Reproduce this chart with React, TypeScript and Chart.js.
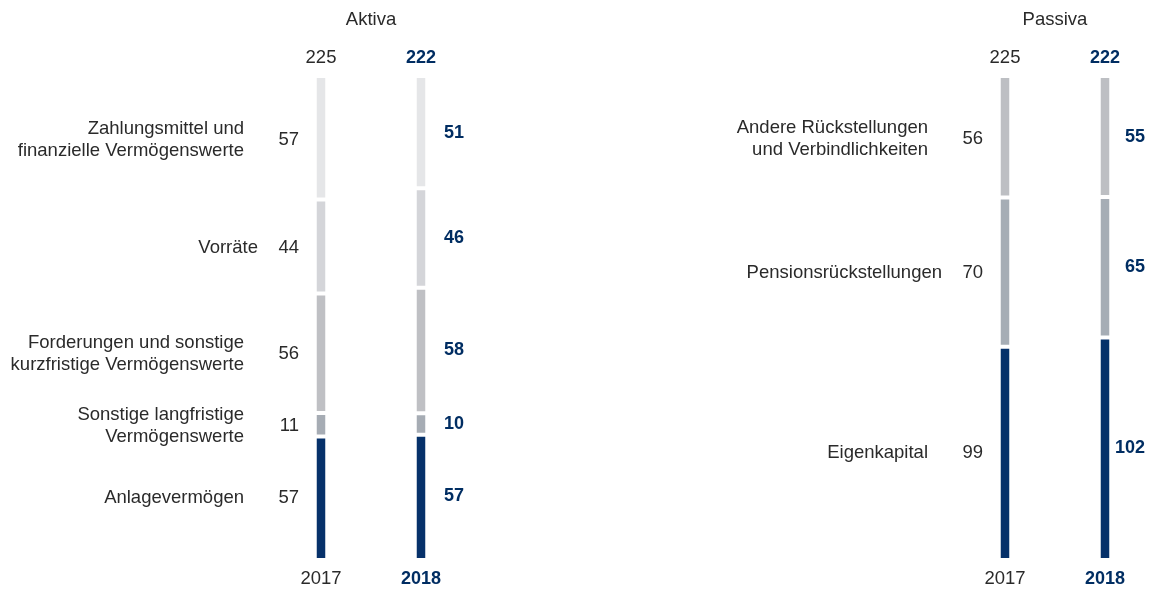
import React, { useEffect, useRef } from "react";
import { Chart, registerables } from "chart.js";

Chart.register(...registerables);

// Balance sheet structure, values in € bn
const years = ["2017", "2018"];

// Aktiva, listed from the bottom of the stack upwards
const aktivaCategories = [
  "Anlagevermögen",
  "Sonstige langfristige\nVermögenswerte",
  "Forderungen und sonstige\nkurzfristige Vermögenswerte",
  "Vorräte",
  "Zahlungsmittel und\nfinanzielle Vermögenswerte",
];
const aktiva2017 = [57, 11, 56, 44, 57];
const aktiva2018 = [57, 10, 58, 46, 51];
const aktivaColors = ["#06316A", "#A6ACB4", "#BFC0C4", "#D4D5D9", "#E5E6E8"];

// Passiva, listed from the bottom of the stack upwards
const passivaCategories = [
  "Eigenkapital",
  "Pensionsrückstellungen",
  "Andere Rückstellungen\nund Verbindlichkeiten",
];
const passiva2017 = [99, 70, 56];
const passiva2018 = [102, 65, 55];
const passivaColors = ["#06316A", "#A6ADB5", "#BDBFC3"];

const NAVY = "#002D62";
const TEXT = "#2a2a2a";
const FONT = "'Liberation Sans', Arial, Helvetica, sans-serif";
const FONT_SIZE = 18.5;
const BOLD_SIZE = 18;

type PanelProps = {
  title: string;
  categories: string[];
  first: number[];
  second: number[];
  colors: string[];
  left: number;
  width: number;
  padLeft: number;
  padRight: number;
  valueOffset: number;
  singleLineShift: number[];
};

const sum = (a: number[]) => a.reduce((s, v) => s + v, 0);

function Panel(props: PanelProps) {
  const ref = useRef<HTMLCanvasElement | null>(null);

  useEffect(() => {
    const canvas = ref.current;
    if (!canvas) return;
    const { categories, first, second, colors, title, singleLineShift, valueOffset } = props;
    const totals = [sum(first), sum(second)];
    const n = categories.length;

    const datasets = categories.map((cat, i) => ({
      label: cat,
      // each column is shown as its share of the balance sheet total
      data: [(first[i] / totals[0]) * 100, (second[i] / totals[1]) * 100],
      backgroundColor: colors[i],
      borderColor: "#ffffff",
      borderWidth: {
        top: i === n - 1 ? 0 : 2,
        bottom: i === 0 ? 0 : 2,
        left: 0,
        right: 0,
      },
      borderSkipped: false as const,
      inflateAmount: 0,
      barThickness: 9,
    }));

    const labelPlugin = {
      id: "balanceLabels",
      afterDatasetsDraw(chart: any) {
        const ctx = chart.ctx as CanvasRenderingContext2D;
        ctx.save();
        ctx.textBaseline = "middle";

        const firstMeta = chart.getDatasetMeta(0);
        const xA = firstMeta.data[0].x;
        const xB = firstMeta.data[1].x;

        // title
        ctx.font = `${FONT_SIZE}px ${FONT}`;
        ctx.fillStyle = TEXT;
        ctx.textAlign = "center";
        ctx.fillText(title, (xA + xB) / 2, 20);

        // totals above, years below
        ctx.fillText(String(totals[0]), xA, 58);
        ctx.fillText(years[0], xA, 579);
        ctx.font = `bold ${BOLD_SIZE}px ${FONT}`;
        ctx.fillStyle = NAVY;
        ctx.fillText(String(totals[1]), xB, 58);
        ctx.fillText(years[1], xB, 579);

        categories.forEach((cat, i) => {
          const meta = chart.getDatasetMeta(i);
          const a = meta.data[0];
          const b = meta.data[1];
          const cyA = (a.y + a.base) / 2;
          const cyB = (b.y + b.base) / 2;

          // values of the first year
          ctx.font = `${FONT_SIZE}px ${FONT}`;
          ctx.fillStyle = TEXT;
          ctx.textAlign = "right";
          ctx.fillText(String(first[i]), xA - 22, cyA + 1);

          // category names
          const lines = cat.split("\n");
          const lh = 22;
          const x = xA - 77 + (singleLineShift[i] || 0);
          lines.forEach((line, k) => {
            const y = cyA + 1 + (k - (lines.length - 1) / 2) * lh;
            ctx.fillText(line, x, y);
          });

          // values of the second year
          ctx.font = `bold ${BOLD_SIZE}px ${FONT}`;
          ctx.fillStyle = NAVY;
          ctx.textAlign = "right";
          ctx.fillText(String(second[i]), xB + valueOffset, cyB);
        });

        ctx.restore();
      },
    };

    const chart = new Chart(canvas, {
      type: "bar",
      data: { labels: years, datasets },
      options: {
        animation: false,
        responsive: false,
        maintainAspectRatio: false,
        layout: {
          padding: { left: props.padLeft, right: props.padRight, top: 78, bottom: 31 },
        },
        plugins: {
          legend: { display: false },
          tooltip: { enabled: false },
        },
        scales: {
          x: { stacked: true, display: false },
          y: { stacked: true, display: false, min: 0, max: 100 },
        },
      },
      plugins: [labelPlugin],
    });

    return () => chart.destroy();
  }, []);

  return (
    <div
      style={{
        position: "absolute",
        left: props.left,
        top: 0,
        width: props.width,
        height: 589,
      }}
    >
      <canvas ref={ref} width={props.width} height={589} style={{ display: "block" }} />
    </div>
  );
}

export default function App() {
  return (
    <div
      style={{
        position: "absolute",
        left: 0,
        top: 0,
        width: 1149,
        height: 589,
        overflow: "hidden",
        background: "#ffffff",
      }}
    >
      <Panel
        title="Aktiva"
        categories={aktivaCategories}
        first={aktiva2017}
        second={aktiva2018}
        colors={aktivaColors}
        left={0}
        width={575}
        padLeft={271}
        padRight={104}
        valueOffset={43}
        singleLineShift={[0, 0, 0, 14, 0]}
      />
      <Panel
        title="Passiva"
        categories={passivaCategories}
        first={passiva2017}
        second={passiva2018}
        colors={passivaColors}
        left={575}
        width={620}
        padLeft={380}
        padRight={40}
        valueOffset={40}
        singleLineShift={[0, 14, 0]}
      />
    </div>
  );
}
